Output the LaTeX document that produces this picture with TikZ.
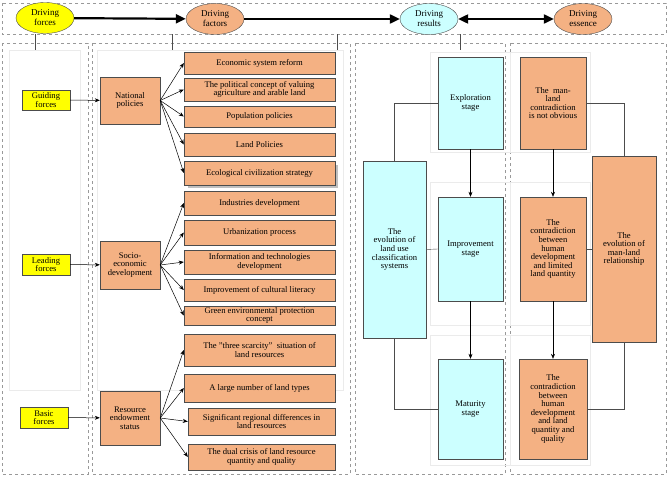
\documentclass[tikz,border=0pt]{standalone}
\usepackage{fontspec}
\setmainfont{Liberation Serif}
\usetikzlibrary{shapes.geometric,arrows.meta}
\definecolor{org}{HTML}{F4B183}
\definecolor{cyn}{HTML}{CCFFFF}
\definecolor{yel}{HTML}{FFFF00}
\begin{document}
\begin{tikzpicture}[x=1pt,y=-1pt,
  font=\fontsize{8.6}{8.6}\selectfont,
  ell/.style={ellipse,draw=black!70,minimum width=58pt,minimum height=31pt,inner sep=0pt,align=center,font=\fontsize{9}{10}\selectfont},
  bx/.style={draw=black!70,align=center,inner sep=1pt},
  dframe/.style={draw=black!40,dashed,line width=0.4pt},
  pale/.style={draw=black!8,line width=0.6pt},
  ar/.style={-{Stealth[length=5pt,width=4pt]},line width=0.5pt},
  big/.style={-{Triangle[length=10pt,width=9pt]},line width=2.2pt}]
\useasboundingbox (0,0) rectangle (669,479);
\fill[white] (0,0) rectangle (669,479);
% dashed frames
\draw[dframe] (2,3) rectangle (666,34);
\draw[dframe] (2,43) rectangle (88,474);
\draw[dframe] (92,43) rectangle (350,474);
\draw[dframe] (355,43) rectangle (505,474);
\draw[dframe] (510,43) rectangle (666,474);
\draw[pale] (9,50) rectangle (80,390);
\draw[pale] (97,50) rectangle (343,390);
\draw[pale] (430,52) rectangle (510,152);
\draw[pale] (430,182) rectangle (510,325);
\draw[pale] (430,335) rectangle (510,465);
\draw[pale] (510,52) rectangle (590,152);
\draw[pale] (510,182) rectangle (590,325);
\draw[pale] (510,335) rectangle (590,465);
% ellipses
\node[ell,fill=yel] (e1) at (45,18) {Driving\\forces};
\node[ell,fill=org] (e2) at (215,19) {Driving\\factors};
\node[ell,fill=cyn] (e3) at (429,19) {Driving\\results};
\node[ell,fill=org] (e4) at (583,19) {Driving\\essence};
\draw[big] (e1) -- (e2);
\draw[big] (e2) -- (e3);
\draw[big,{Triangle[length=10pt,width=9pt]}-{Triangle[length=10pt,width=9pt]}] (e3) -- (e4);
\coordinate (t1) at (35,50); \coordinate (t2) at (172,50);
\coordinate (t3) at (337,50); \coordinate (t4) at (460,50);
\draw[black!70] (35,34) -- (t1); \draw[black!70] (172,34) -- (t2);
\draw[black!70] (337,34) -- (t3); \draw[black!70] (460,34) -- (t4);
% column 1
\node[bx,fill=yel,minimum width=48pt,minimum height=20pt] (g) at (46,100) {Guiding\\forces};
\node[bx,fill=yel,minimum width=48pt,minimum height=21pt] (l) at (46,264.5) {Leading\\forces};
\node[bx,fill=yel,minimum width=48pt,minimum height=21pt] (b) at (44,417.5) {Basic\\forces};
% column 2 middle
\node[bx,fill=org,minimum width=60pt,minimum height=47pt] (np) at (130,100.5) {National\\policies};
\node[bx,fill=org,minimum width=60pt,minimum height=48pt] (se) at (130,265) {Socio-\\economic\\development};
\node[bx,fill=org,minimum width=60pt,minimum height=54pt] (re) at (130,418) {Resource\\endowment\\status};
\draw[ar] (g) -- (np); \draw[ar] (l) -- (se); \draw[ar] (b) -- (re);
% right boxes
\foreach \n/\x/\y/\w/\h/\t in {
 r1/259.5/63/151/22/{Economic system reform},
 r2/259.5/89.5/151/23/{The political concept of valuing\\agriculture and arable land},
 r3/259.5/116.5/151/21/{Population policies},
 r4/259.5/144.5/151/23/{Land Policies},
 r6/259.5/203/151/24/{Industries development},
 r7/259.5/232.5/151/25/{Urbanization process},
 r8/259.5/262/151/24/{Information and technologies\\development},
 r9/259.5/290/151/22/{Improvement of cultural literacy},
 r10/259.5/315.5/151/19/{Green environmental protection\\concept},
 r11/259.5/350/151/32/{The "three scarcity"\ \ situation of\\land resources},
 r12/259.5/388/151/28/{A large number of land types},
 r13/261.5/421.5/147/27/{Significant regional differences in\\land resources},
 r14/261.5/457/147/26/{The dual crisis of land resource\\quantity and quality}}
 \node[bx,fill=org,minimum width=\w pt,minimum height=\h pt] (\n) at (\x,\y) {\t};
\fill[black!25] (188,165) rectangle (338,188);
\node[bx,fill=org,minimum width=151pt,minimum height=24pt] (r5) at (259.5,173) {Ecological civilization strategy};
\foreach \r in {r1,r2,r3,r4,r5} \draw[ar] (np.east) -- (\r.west);
\foreach \r in {r6,r7,r8,r9,r10} \draw[ar] (se.east) -- (\r.west);
\foreach \r in {r11,r12,r13,r14} \draw[ar] (re.east) -- (\r.west);
% column 3
\node[bx,fill=cyn,minimum width=65pt,minimum height=92pt] (s1) at (470.5,103) {Exploration\\stage};
\node[bx,fill=cyn,minimum width=65pt,minimum height=104pt] (s2) at (470.5,249) {Improvement\\stage};
\node[bx,fill=cyn,minimum width=65pt,minimum height=100pt] (s3) at (470.5,409) {Maturity\\stage};
\node[bx,fill=cyn,minimum width=63pt,minimum height=177pt] (lu) at (394.5,249.5) {The\\evolution of\\land use\\classification\\systems};
\draw[ar] (s1) -- (s2); \draw[ar] (s2) -- (s3);
\draw[black!70] (lu.north) |- (s1.west);
\draw[black!70] (lu.east) -- (s2.west);
\draw[black!70] (lu.south) |- (s3.west);
% column 4
\node[bx,fill=org,minimum width=66pt,minimum height=92pt] (m1) at (553,103) {The\ \ man-\\land\\contradiction\\is not obvious};
\node[bx,fill=org,minimum width=66pt,minimum height=104pt] (m2) at (553,249) {The\\contradiction\\between\\human\\development\\and limited\\land quantity};
\node[bx,fill=org,minimum width=68pt,minimum height=100pt] (m3) at (553,409) {The\\contradiction\\between\\human\\development\\and land\\quantity and\\quality};
\node[bx,fill=org,minimum width=64pt,minimum height=186pt] (ml) at (624,249) {The\\evolution of\\man-land\\relationship};
\draw[ar] (m1) -- (m2); \draw[ar] (m2) -- (m3);
\draw[black!70] (ml.north) |- (m1.east);
\draw[black!70] (ml.west) -- (m2.east);
\draw[black!70] (ml.south) |- (m3.east);
\end{tikzpicture}
\end{document}
